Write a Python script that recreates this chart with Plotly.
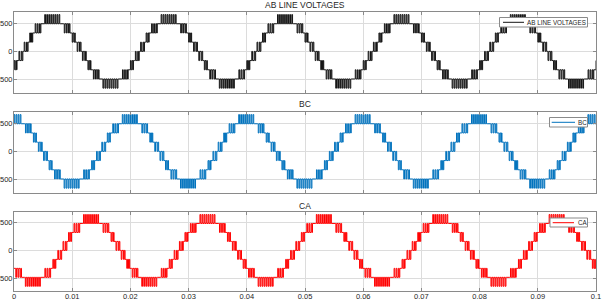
import plotly.graph_objects as go

# ---------------- data ----------------
# one fundamental period (20 ms) of the multilevel PWM line voltage,
# times in ms after the rising zero crossing, levels in volts
burst_start = [0.05, 1.05, 1.95, 3.60, 6.95, 8.35, 9.15,
               10.05, 11.05, 11.95, 13.60, 16.95, 18.35, 19.15]
burst_end = [0.85, 1.65, 3.05, 6.40, 8.05, 8.95, 9.95,
             10.85, 11.65, 13.05, 16.40, 18.05, 18.95, 19.95]
burst_lo = [0, 162.5, 325, 487.5, 325, 162.5, 0,
            -162.5, -325, -487.5, -650, -487.5, -325, -162.5]
burst_hi = [162.5, 325, 487.5, 650, 487.5, 325, 162.5,
            0, -162.5, -325, -487.5, -325, -162.5, 0]
hold_after = [162.5, 325, 487.5, 487.5, 325, 162.5, 0,
              -162.5, -325, -487.5, -487.5, -325, -162.5, 0]
burst_pulses = [2, 2, 3, 8, 3, 2, 2, 2, 2, 3, 8, 3, 2, 2]
pulse_width_ms = 0.13
period_ms = 20.0

# rising zero-crossing time of each line voltage (ms)
zero_cross_ab = 1.57
zero_cross_bc = 14.90
zero_cross_ca = 8.24

series_names = ["AB LINE VOLTAGES", "BC", "CA"]
panel_titles = ["AB LINE VOLTAGES", "BC", "CA"]
series_colors = ["#141414", "#0072BD", "#FF0000"]

x_tick_vals = [0, 0.01, 0.02, 0.03, 0.04, 0.05, 0.06, 0.07, 0.08, 0.09, 0.1]
x_tick_text = ["0", "0.01", "0.02", "0.03", "0.04", "0.05", "0.06",
               "0.07", "0.08", "0.09", "0.1"]
y_tick_vals = [-500, 0, 500]
y_tick_text = ["-500", "0", "500"]


def build_wave(zc):
    ts, vs = [], []
    for c in range(-1, 6):
        off = zc + c * period_ms
        prev = hold_after[-1]
        for i in range(len(burst_start)):
            s, e = burst_start[i] + off, burst_end[i] + off
            lo, hi = burst_lo[i], burst_hi[i]
            other = hi if prev == lo else lo
            n = burst_pulses[i]
            ts.append(s)
            vs.append(prev)
            for k in range(n):
                c0 = s + (k + 0.5) * (e - s) / n
                ts += [c0 - pulse_width_ms / 2, c0 + pulse_width_ms / 2]
                vs += [other, prev]
            ts.append(e)
            vs.append(hold_after[i])
            prev = hold_after[i]
    return [t / 1000.0 for t in ts], vs


waves = [build_wave(zero_cross_ab), build_wave(zero_cross_bc),
         build_wave(zero_cross_ca)]

# ---------------- figure ----------------
W, H = 604, 301
ML, MR, MT, MB = 14, 8, 12, 10
PW, PH = W - ML - MR, H - MT - MB


def px(xp):
    return (xp - ML) / PW


def py(yp):
    return (H - MB - yp) / PH


fig = go.Figure()
domains = [[py(93), py(12)], [py(193), py(112)], [py(291), py(212)]]

for i in range(3):
    t, v = waves[i]
    fig.add_trace(go.Scatter(
        x=t, y=v, mode="lines", line_shape="hv",
        line=dict(color=series_colors[i], width=1),
        name=series_names[i],
        xaxis="x" if i == 0 else f"x{i+1}",
        yaxis="y" if i == 0 else f"y{i+1}",
        showlegend=False, hoverinfo="skip",
    ))

font_family = "Liberation Sans, Arial, sans-serif"
axis_common = dict(showline=True, mirror="ticks", linecolor="#8a8a8a",
                   linewidth=1, ticks="inside", ticklen=3,
                   tickcolor="#8a8a8a", showgrid=True, gridcolor="#dcdcdc",
                   gridwidth=1, zeroline=False, automargin=False,
                   tickfont=dict(family=font_family, size=7.5,
                                 color="#262626"))

layout = dict(
    width=W, height=H,
    margin=dict(l=ML, r=MR, t=MT, b=MB, autoexpand=False),
    paper_bgcolor="white", plot_bgcolor="white",
    font=dict(family=font_family, color="#262626"),
    showlegend=False,
)

for i in range(3):
    xa = "xaxis" if i == 0 else f"xaxis{i+1}"
    ya = "yaxis" if i == 0 else f"yaxis{i+1}"
    yname = "y" if i == 0 else f"y{i+1}"
    xname = "x" if i == 0 else f"x{i+1}"
    layout[xa] = dict(axis_common, domain=[0, 1], anchor=yname,
                      range=[0, 0.1], tickvals=x_tick_vals,
                      ticktext=x_tick_text if i == 2 else [""] * len(x_tick_vals),
                      ticklabelstandoff=-2)
    layout[ya] = dict(axis_common, domain=domains[i], anchor=xname,
                      range=[-735, 695], tickvals=y_tick_vals,
                      ticktext=y_tick_text, ticklabelstandoff=-1)

fig.update_layout(**layout)

# panel titles
title_y = [5, 104, 206]
for i in range(3):
    fig.add_annotation(
        text=panel_titles[i], xref="paper", yref="paper",
        x=0.5, y=py(title_y[i]), yanchor="middle", xanchor="center",
        showarrow=False,
        font=dict(family=font_family, size=8.5, color="#262626"),
    )

# legend boxes (box x0, x1, y0, y1, line x0, x1, y, text x) in pixels
leg_box = [(499.5, 587.5, 17.5, 27), (549.5, 587.5, 117.5, 127),
           (550, 587.5, 218, 227)]
leg_line = [(503, 524, 22.3), (551.7, 575, 122.3), (552.7, 574, 222.7)]
leg_text_x = [526, 576.5, 576.5]
for i in range(3):
    bx0, bx1, by0, by1 = leg_box[i]
    fig.add_shape(type="rect", xref="paper", yref="paper",
                  x0=px(bx0), x1=px(bx1), y0=py(by1), y1=py(by0),
                  fillcolor="white", line=dict(color="#8a8a8a", width=1),
                  layer="above")
    lx0, lx1, ly = leg_line[i]
    fig.add_shape(type="line", xref="paper", yref="paper",
                  x0=px(lx0), x1=px(lx1), y0=py(ly), y1=py(ly),
                  line=dict(color=series_colors[i], width=1), layer="above")
    fig.add_annotation(
        text=series_names[i], xref="paper", yref="paper",
        x=px(leg_text_x[i]), y=py(ly), xanchor="left", yanchor="middle",
        showarrow=False, xshift=-1,
        font=dict(family=font_family, size=6.3, color="#262626"),
    )

fig.write_html("out.html",
               config={"displayModeBar": False},
               post_script="document.body.style.margin='0';"
                           "document.body.style.overflow='hidden';")
